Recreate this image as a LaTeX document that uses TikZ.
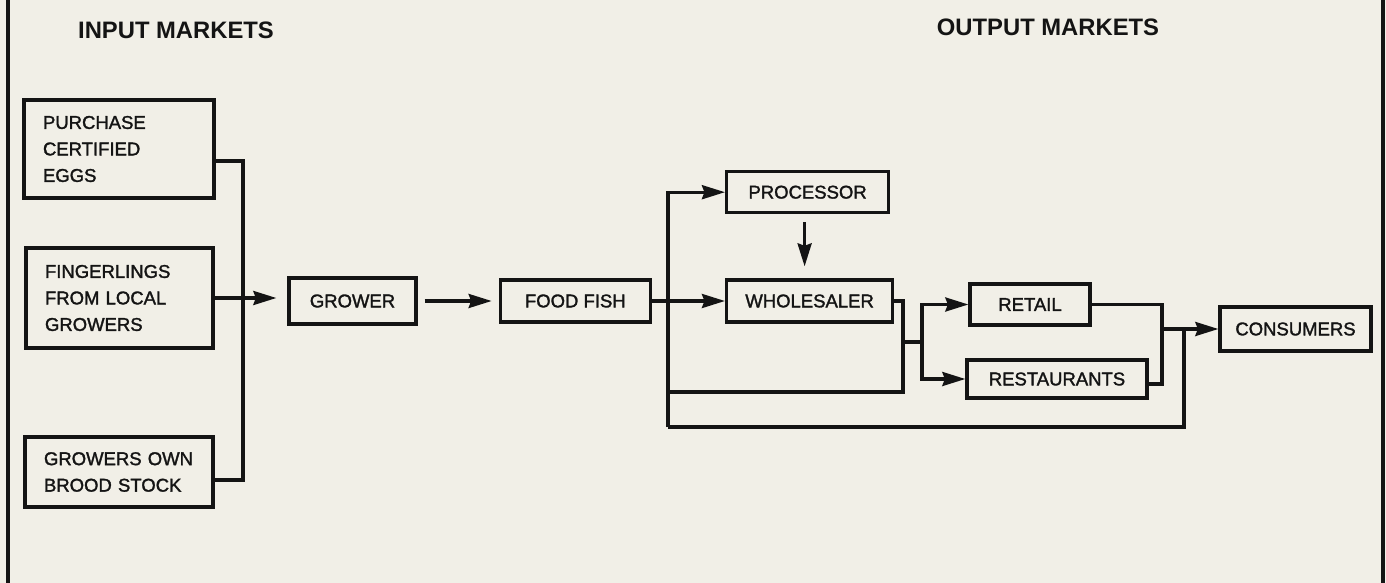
\documentclass[tikz,border=0pt]{standalone}
\usepackage{fontspec}
\setmainfont{Liberation Sans}
\usetikzlibrary{positioning,arrows.meta}
\definecolor{PaperTone}{RGB}{241,239,231}
\definecolor{InkBlack}{RGB}{20,20,20}
\tikzset{
  flow/.style={-{Stealth[length=23pt,width=14pt,inset=2.5pt]},line width=3.2pt,draw=InkBlack},
  link/.style={line width=3.2pt,draw=InkBlack},
  box/.style={draw=InkBlack,line width=3.3pt,inner sep=0pt,align=center,
    text=InkBlack,font=\fontsize{18.5}{26.5}\selectfont\addfontfeature{FakeBold=1.6}},
  inbox/.style={box,align=left,inner xsep=19pt},
  heading/.style={font=\fontsize{23.8}{28}\selectfont\bfseries,text=InkBlack}
}

\begin{document}
\begin{tikzpicture}[x=1pt,y=-1pt]
  \fill[PaperTone] (0,0) rectangle (1386,583);
  \useasboundingbox (0,0) rectangle (1386,583);
  \draw[link] (8,0) -- (8,583);
  \draw[link] (1383,0) -- (1383,583);
  % titles
  \node[heading] (inhead) at (176,30) {INPUT MARKETS};
  \node[heading] (outhead) at (1048,27) {OUTPUT MARKETS};
  % input side
  \node[inbox,text width=152pt,minimum height=98pt] (eggs) at (119,149) {PURCHASE\\CERTIFIED\\EGGS};
  \node[inbox,text width=149pt,minimum height=100pt] (fingerlings) at (119.5,298) {FINGERLINGS\\FROM LOCAL\\GROWERS};
  \node[inbox,text width=150pt,minimum height=70pt] (brood) at (119,472) {GROWERS OWN\\BROOD STOCK};
  % main chain
  \node[box,minimum width=127pt,minimum height=46pt] (grower) at (352.5,301) {GROWER};
  \node[box,minimum width=150pt,minimum height=42pt,right=81pt of grower] (foodfish) {FOOD FISH};
  \node[box,minimum width=166pt,minimum height=42pt,right=73pt of foodfish] (wholesaler) {WHOLESALER};
  \node[box,minimum width=162pt,minimum height=41pt,above=64pt of wholesaler.north west,anchor=south west] (processor) {PROCESSOR};
  % output side
  \node[box,minimum width=120pt,minimum height=41pt] (retail) at (1030,304.5) {RETAIL};
  \node[box,minimum width=180pt,minimum height=38pt] (restaurants) at (1057,379) {RESTAURANTS};
  \node[box,minimum width=151pt,minimum height=44pt] (consumers) at (1295.5,329) {CONSUMERS};
  % junction points
  \coordinate (inbar) at (243,301);
  \coordinate (split) at (668,301);
  \coordinate (midloop) at (0,392);
  \coordinate (lowloop) at (0,427);
  \coordinate (wsjoin) at (903,342);
  \coordinate (fork) at (922,342);
  \coordinate (merge) at (1162,329);
  \coordinate (cjoin) at (1184,329);
  % connectors
  \draw[link] ([yshift=-12pt]eggs.east) -| (inbar) |- ([yshift=-8pt]brood.east);
  \draw[flow,shorten >=11pt] (fingerlings.east) -- (fingerlings.east -| grower.west);
  \draw[flow,shorten <=7pt,shorten >=7pt] (grower) -- (foodfish);
  \draw[flow] (foodfish) -- (wholesaler);
  \draw[flow] (split |- lowloop) |- (processor.west);
  \draw[flow,shorten <=8pt,shorten >=12pt] ([xshift=-3pt]processor.south) -- ([xshift=-3pt]processor.south |- wholesaler.north);
  \draw[link] (wholesaler.east) -| (wsjoin |- midloop) -- (split |- midloop);
  \draw[link] (wsjoin) -- (fork);
  \draw[flow] (fork) |- (retail.west);
  \draw[flow] (fork) |- (restaurants.west);
  \draw[link] (retail.east) -| (merge);
  \draw[link] ([yshift=-5pt]restaurants.east) -| (merge);
  \draw[flow] (merge) -- (consumers.west);
  \draw[link] (split |- lowloop) -| (cjoin);
\end{tikzpicture}
\end{document}
